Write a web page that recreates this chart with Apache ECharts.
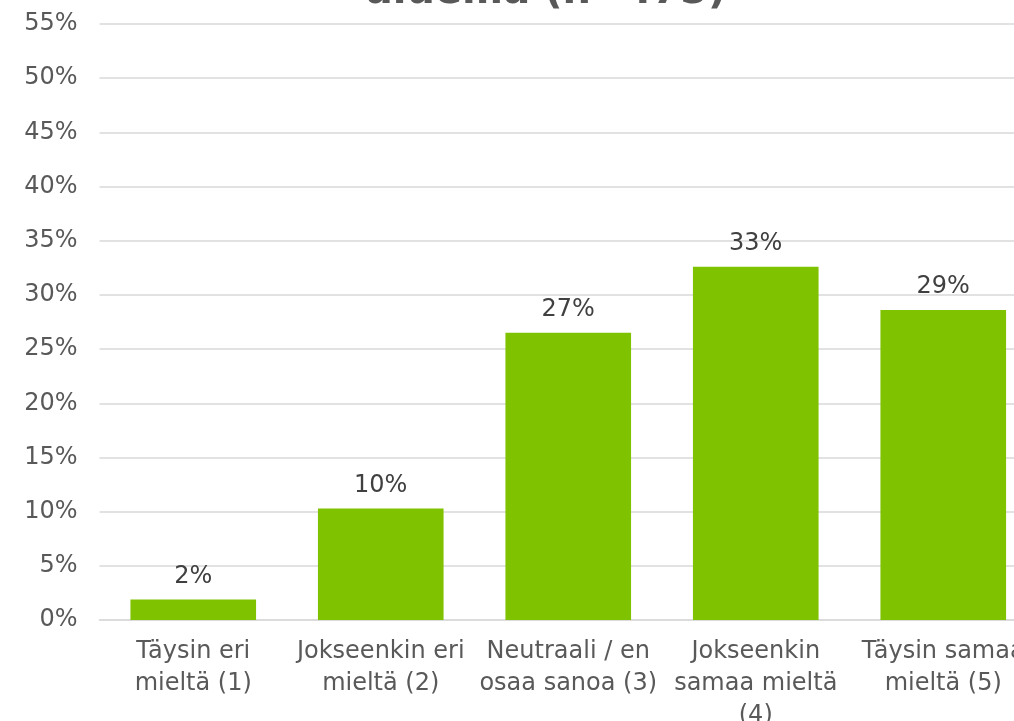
<!DOCTYPE html>
<html>
<head>
<meta charset="utf-8">
<script src="https://cdn.jsdelivr.net/npm/echarts@6/dist/echarts.min.js"></script>
<style>
html,body{margin:0;padding:0;background:#fff;overflow:hidden;}
#chart{width:1014px;height:721px;}
</style>
</head>
<body>
<div id="chart"></div>
<script>
const titleText = "alueilla (n=475)";
const categories = [
  "Täysin eri\nmieltä (1)",
  "Jokseenkin eri\nmieltä (2)",
  "Neutraali / en\nosaa sanoa (3)",
  "Jokseenkin\nsamaa mieltä\n(4)",
  "Täysin samaa\nmieltä (5)"
];
const values = [1.9, 10.3, 26.5, 32.6, 28.6];
const yTicks = { min: 0, max: 55, interval: 5 };

const chart = echarts.init(document.getElementById('chart'));
chart.setOption({
  animation: false,
  backgroundColor: '#ffffff',
  textStyle: { fontFamily: 'DejaVu Sans' },
  title: {
    text: titleText,
    left: 541,
    top: -32,
    textAlign: 'center',
    textStyle: { fontFamily: 'DejaVu Sans', fontWeight: 'bold', fontSize: 40, color: '#595959' }
  },
  grid: { left: 99.5, top: 24, width: 937.5, height: 596, containLabel: false, outerBoundsMode: 'none' },
  xAxis: {
    type: 'category',
    data: categories,
    axisLine: { show: true, lineStyle: { color: '#d9d9d9', width: 1.5 } },
    axisTick: { show: false },
    axisLabel: { color: '#595959', fontSize: 24, lineHeight: 32, margin: 16, interval: 0, fontFamily: 'DejaVu Sans' }
  },
  yAxis: {
    type: 'value',
    min: yTicks.min, max: yTicks.max, interval: yTicks.interval,
    axisLine: { show: false },
    axisTick: { show: false },
    splitLine: { lineStyle: { color: '#d9d9d9', width: 1.5 } },
    axisLabel: { formatter: '{value}%', color: '#595959', fontSize: 24, margin: 22, fontFamily: 'DejaVu Sans' }
  },
  series: [{
    type: 'bar',
    data: values,
    barWidth: '67%',
    itemStyle: { color: '#7fc200' },
    label: {
      show: true, position: 'top', distance: 11,
      color: '#404040', fontSize: 24, fontFamily: 'DejaVu Sans',
      formatter: p => Math.round(p.value) + '%'
    }
  }]
});
</script>
</body>
</html>
